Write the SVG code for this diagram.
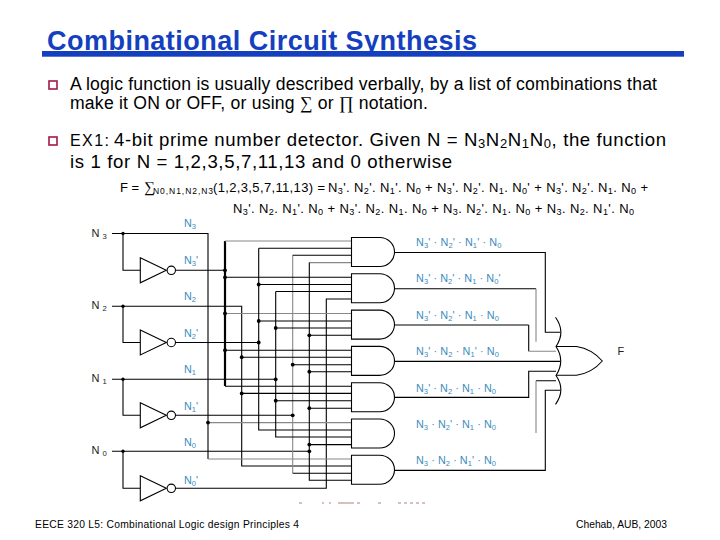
<svg xmlns="http://www.w3.org/2000/svg" width="720" height="540" viewBox="0 0 720 540">
<style>
text{font-family:"Liberation Sans",Arial,sans-serif;fill:#000}
.t{font-size:17.6px}
.f{font-size:13px}
.b{font-size:10.8px;fill:#3b8bbd}
.l{font-size:11px;fill:#222}
.s{font-size:70%;baseline-shift:-2px}
.w{fill:none;stroke:#000;stroke-width:1.1}
.g{fill:none;stroke:#888;stroke-width:1.1}
.gate{fill:#fff;stroke:#000;stroke-width:1.1}
.d{fill:#000}
</style>
<defs>
<path id="and" class="gate" d="M0 0H28C37 0 43 7 43 14.5C43 22 37 29 28 29H0Z"/>
<g id="inv"><path class="gate" d="M0-12.5L26 0L0 12.5Z"/><circle class="gate" cx="31" cy="0" r="4.2"/></g>
</defs>
<rect width="720" height="540" fill="#fff"/>
<text x="47" y="49.5" font-size="27" font-weight="700" style="fill:#1440c0" textLength="430" lengthAdjust="spacing">Combinational Circuit Synthesis</text>
<rect x="42" y="51" width="642" height="5.7" fill="#1440c0"/>
<rect x="49" y="81" width="8" height="8" fill="#fff" stroke="#a01845" stroke-width="1.6"/>
<rect x="49" y="137" width="8" height="8" fill="#fff" stroke="#a01845" stroke-width="1.6"/>
<text class="t" x="70" y="90" textLength="587" lengthAdjust="spacing">A logic function is usually described verbally, by a list of combinations that</text>
<text class="t" x="70" y="108.5" textLength="358" lengthAdjust="spacing">make it ON or OFF, or using <tspan style="font-family:'Liberation Serif',serif">∑</tspan> or <tspan style="font-family:'Liberation Serif',serif">∏</tspan> notation.</text>
<text x="70" y="145.5" font-size="16" textLength="39" lengthAdjust="spacing">EX1:</text>
<text x="114" y="145.5" font-size="18.6" textLength="552" lengthAdjust="spacing">4-bit prime number detector. Given N = N<tspan class="s">3</tspan>N<tspan class="s">2</tspan>N<tspan class="s">1</tspan>N<tspan class="s">0</tspan>, the function</text>
<text x="70" y="167.5" font-size="18.6" textLength="382" lengthAdjust="spacing">is 1 for N = 1,2,3,5,7,11,13 and 0 otherwise</text>
<text class="f" x="120" y="191.5">F = </text>
<text x="144" y="192" style="font-family:'Liberation Serif',serif;font-size:15px">∑</text>
<text x="153" y="194" font-size="8.5" textLength="60" lengthAdjust="spacing">N0,N1,N2,N3</text>
<text class="f" x="213" y="191.5" textLength="112" lengthAdjust="spacing">(1,2,3,5,7,11,13) =</text>
<text class="f" x="328" y="191.5" textLength="320" lengthAdjust="spacing">N<tspan class="s">3</tspan>'. N<tspan class="s">2</tspan>'. N<tspan class="s">1</tspan>'. N<tspan class="s">0</tspan> + N<tspan class="s">3</tspan>'. N<tspan class="s">2</tspan>'. N<tspan class="s">1</tspan>. N<tspan class="s">0</tspan>' + N<tspan class="s">3</tspan>'. N<tspan class="s">2</tspan>'. N<tspan class="s">1</tspan>. N<tspan class="s">0</tspan> +</text>
<text class="f" x="233" y="213" textLength="401" lengthAdjust="spacing">N<tspan class="s">3</tspan>'. N<tspan class="s">2</tspan>. N<tspan class="s">1</tspan>'. N<tspan class="s">0</tspan> + N<tspan class="s">3</tspan>'. N<tspan class="s">2</tspan>. N<tspan class="s">1</tspan>. N<tspan class="s">0</tspan> + N<tspan class="s">3</tspan>. N<tspan class="s">2</tspan>'. N<tspan class="s">1</tspan>. N<tspan class="s">0</tspan> + N<tspan class="s">3</tspan>. N<tspan class="s">2</tspan>. N<tspan class="s">1</tspan>'. N<tspan class="s">0</tspan></text>
<g id="connectors">
<path class="w" d="M112 233.5H208V459M123 233.5V270.3H140M112 306.3H241.7V466H351M123 306.3V342.5H140M112 379.3H275.7M123 379.3V415.3H140M112 451.3H309.3M123 451.3V488.3H140"/>
<path class="w" d="M175 270.3H225M175 342.5H258.7M175 415.3H292.7M175 488.3H326.3V299H351"/>
<path fill="none" stroke="#000" stroke-width="2.2" d="M225 241V386"/>
<path class="g" d="M225 241H351M225 313.5H351M208 422.6H351M208 459H351M292.7 255.3V473.3M309.3 262.6H351"/>
<path class="w" d="M225 277.3H351M225 350.2H351M225 386.3H351"/>
<path class="w" d="M258.7 248.2V430H351M351 248.2H258.7M258.7 284.5H351M258.7 321H351"/>
<path class="w" d="M275.7 291.5V437H351M275.7 291.5H351M275.7 328H351M275.7 400.7H351"/>
<path class="w" d="M292.7 255.3H351M292.7 364.7H351M292.7 473.3H351"/>
<path class="w" d="M309.3 262.6V480.3H351M309.3 335.3H351M309.3 371.7H351M309.3 408.2H351M309.3 444.6H351"/>
<path class="w" d="M241.7 357.2H351M241.7 393.4H351"/>
<path class="w" d="M394.5 252.5H545.3V332.3H560.5M394.5 288.7H536M394.5 325H528.7M394.5 361.4H560.5M394.5 397.4H528.7V371.3H556M394.5 470.4H545.3V390.3H560.5M556 380.7H536"/>
<path class="w" d="M528.7 325V351.3"/>
<path class="g" d="M536 288.7V341.7M528.7 351.3H556M536 380.7V433"/>
<g class="d">
<circle cx="123" cy="233.5" r="1.7"/><circle cx="123" cy="306.3" r="1.7"/><circle cx="123" cy="379.3" r="1.7"/><circle cx="123" cy="451.3" r="1.7"/>
<circle cx="225" cy="270.3" r="1.9"/><circle cx="225" cy="277.3" r="1.9"/><circle cx="225" cy="313.5" r="1.9"/><circle cx="225" cy="350.2" r="1.9"/>
<circle cx="208" cy="422.6" r="1.9"/>
<circle cx="241.7" cy="357.2" r="1.9"/><circle cx="241.7" cy="393.4" r="1.9"/>
<circle cx="258.7" cy="284.5" r="1.9"/><circle cx="258.7" cy="321" r="1.9"/><circle cx="258.7" cy="342.5" r="1.9"/>
<circle cx="275.7" cy="328" r="1.9"/><circle cx="275.7" cy="379.3" r="1.9"/><circle cx="275.7" cy="400.7" r="1.9"/>
<circle cx="292.7" cy="364.7" r="1.9"/><circle cx="292.7" cy="415.3" r="1.9"/>
<circle cx="309.3" cy="335.3" r="1.9"/><circle cx="309.3" cy="371.7" r="1.9"/><circle cx="309.3" cy="408.2" r="1.9"/><circle cx="309.3" cy="444.6" r="1.9"/><circle cx="309.3" cy="451.3" r="1.9"/>
</g>
</g>
<g id="in3"><text class="l" x="91.5" y="237">N <tspan class="s">3</tspan></text><text class="b" x="184" y="226.5">N<tspan class="s">3</tspan></text></g>
<g id="inv3"><use href="#inv" x="140.3" y="270.3"/><text class="b" x="184" y="263.5">N<tspan class="s">3</tspan>'</text></g>
<g id="in2"><text class="l" x="91.5" y="309">N <tspan class="s">2</tspan></text><text class="b" x="184" y="300">N<tspan class="s">2</tspan></text></g>
<g id="inv2"><use href="#inv" x="140.3" y="342.5"/><text class="b" x="184" y="337">N<tspan class="s">2</tspan>'</text></g>
<g id="in1"><text class="l" x="91.5" y="381.5">N <tspan class="s">1</tspan></text><text class="b" x="184" y="372.5">N<tspan class="s">1</tspan></text></g>
<g id="inv1"><use href="#inv" x="140.3" y="415.3"/><text class="b" x="184" y="410">N<tspan class="s">1</tspan>'</text></g>
<g id="in0"><text class="l" x="91.5" y="454">N <tspan class="s">0</tspan></text><text class="b" x="184" y="446">N<tspan class="s">0</tspan></text></g>
<g id="inv0"><use href="#inv" x="140.3" y="488.3"/><text class="b" x="184" y="484">N<tspan class="s">0</tspan>'</text></g>
<g id="and1"><use href="#and" x="351.5" y="237.5"/><text class="b" x="416" y="246" textLength="85.5" lengthAdjust="spacing">N<tspan class="s">3</tspan>' · N<tspan class="s">2</tspan>' · N<tspan class="s">1</tspan>' · N<tspan class="s">0</tspan></text></g>
<g id="and2"><use href="#and" x="351.5" y="273.8"/><text class="b" x="416" y="282" textLength="84.5" lengthAdjust="spacing">N<tspan class="s">3</tspan>' · N<tspan class="s">2</tspan>' · N<tspan class="s">1</tspan> · N<tspan class="s">0</tspan>'</text></g>
<g id="and3"><use href="#and" x="351.5" y="310.1"/><text class="b" x="416" y="318.5" textLength="83" lengthAdjust="spacing">N<tspan class="s">3</tspan>' · N<tspan class="s">2</tspan>' · N<tspan class="s">1</tspan> · N<tspan class="s">0</tspan></text></g>
<g id="and4"><use href="#and" x="351.5" y="346.4"/><text class="b" x="416" y="355" textLength="83" lengthAdjust="spacing">N<tspan class="s">3</tspan>' · N<tspan class="s">2</tspan> · N<tspan class="s">1</tspan>' · N<tspan class="s">0</tspan></text></g>
<g id="and5"><use href="#and" x="351.5" y="382.7"/><text class="b" x="416" y="391.5" textLength="80" lengthAdjust="spacing">N<tspan class="s">3</tspan>' · N<tspan class="s">2</tspan> · N<tspan class="s">1</tspan> · N<tspan class="s">0</tspan></text></g>
<g id="and6"><use href="#and" x="351.5" y="419"/><text class="b" x="416" y="427.5" textLength="80" lengthAdjust="spacing">N<tspan class="s">3</tspan> · N<tspan class="s">2</tspan>' · N<tspan class="s">1</tspan> · N<tspan class="s">0</tspan></text></g>
<g id="and7"><use href="#and" x="351.5" y="455.3"/><text class="b" x="416" y="463.5" textLength="80" lengthAdjust="spacing">N<tspan class="s">3</tspan> · N<tspan class="s">2</tspan> · N<tspan class="s">1</tspan>' · N<tspan class="s">0</tspan></text></g>
<g id="or">
<path class="w" d="M555.5 317.3Q566 332 556 346.5Q565.5 361 556 375.5Q566 390 555.5 404.3"/>
<path class="w" d="M556 346.5H576.5Q592 349 602.3 361Q592 373 576.5 375.3H556"/>
<text class="l" x="617.5" y="355">F</text>
</g>
<path d="M299 503h3M322 503h2M329 503h2M338 503h16M357 503h3M378 503h3M398 503h3M404 503h3M410 503h3M416 503h3M422 503h3" stroke="#b08080" stroke-width="1" fill="none"/>
<text x="35" y="527.5" font-size="10.3" textLength="264" lengthAdjust="spacing">EECE 320  L5: Combinational Logic design Principles  4</text>
<text x="576" y="527.5" font-size="10.3" textLength="91" lengthAdjust="spacing">Chehab, AUB, 2003</text>
</svg>
